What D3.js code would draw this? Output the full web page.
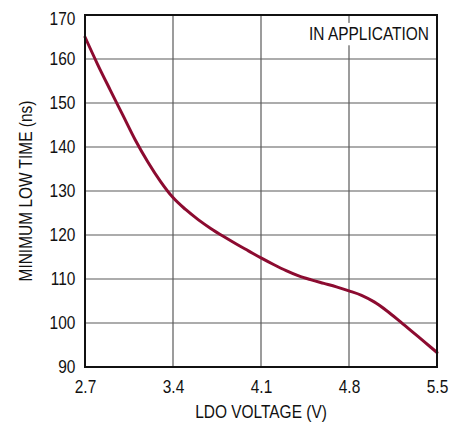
<!DOCTYPE html>
<html>
<head>
<meta charset="utf-8">
<script src="https://cdn.jsdelivr.net/npm/d3@7"></script>
<style>
  body { margin: 0; background: #fff; }
  text { font-family: "Liberation Sans Narrow", "Liberation Sans", Arial, sans-serif; fill: #111; }
</style>
</head>
<body>
<div id="chart"></div>
<script>
var margin = {top: 15, right: 26, bottom: 56, left: 85},
    width = 463 - margin.left - margin.right,
    height = 423 - margin.top - margin.bottom;
var narrow = 0.86; // squeeze text to look like a condensed face

// LDO voltage (V) vs minimum low time (ns)
var voltage = [2.7, 2.8, 2.9, 3.0, 3.1, 3.2, 3.3, 3.4, 3.5, 3.6, 3.7, 3.8, 3.9, 4.0, 4.1,
               4.2, 4.3, 4.4, 4.5, 4.6, 4.7, 4.8, 4.9, 5.0, 5.1, 5.2, 5.3, 5.4, 5.5];
var lowTime = [165, 158.8, 153, 147.3, 141.6, 136.6, 132.2, 128.5, 125.8, 123.5, 121.5, 119.7, 118, 116.4, 114.8,
               113.3, 111.9, 110.7, 109.8, 109, 108.2, 107.3, 106.3, 104.8, 102.8, 100.5, 98.1, 95.7, 93.3];
var xTicks = [2.7, 3.4, 4.1, 4.8, 5.5];
var yTicks = [90, 100, 110, 120, 130, 140, 150, 160, 170];

var svg = d3.select("#chart").append("svg")
    .attr("width", width + margin.left + margin.right)
    .attr("height", height + margin.top + margin.bottom);

var g = svg.append("g")
    .attr("transform", "translate(" + margin.left + "," + margin.top + ")");

var x = d3.scaleLinear().domain([2.7, 5.5]).range([0, width]);
var y = d3.scaleLinear().domain([90, 170]).range([height, 0]);

// grid
g.selectAll(".vgrid").data(xTicks.slice(1, -1)).enter().append("line")
    .attr("x1", function(d) { return x(d); })
    .attr("x2", function(d) { return x(d); })
    .attr("y1", 0).attr("y2", height)
    .attr("stroke", "#5a5a5a").attr("stroke-width", 1.2);

g.selectAll(".hgrid").data(yTicks.slice(1, -1)).enter().append("line")
    .attr("y1", function(d) { return y(d); })
    .attr("y2", function(d) { return y(d); })
    .attr("x1", 0).attr("x2", width)
    .attr("stroke", "#5a5a5a").attr("stroke-width", 1.2);

// label box with white background
var note = g.append("g").attr("transform", "translate(" + (width - 8) + ",25) scale(" + narrow + ",1)");
var noteText = note.append("text")
    .attr("text-anchor", "end")
    .style("font-size", "18px")
    .text("IN APPLICATION");
var bb = noteText.node().getBBox();
note.insert("rect", "text")
    .attr("x", bb.x - 2).attr("y", bb.y - 1)
    .attr("width", bb.width + 4).attr("height", bb.height + 2)
    .attr("fill", "#fff");

// curve
var line = d3.line()
    .x(function(d, i) { return x(voltage[i]); })
    .y(function(d) { return y(d); })
    .curve(d3.curveMonotoneX);

g.append("path")
    .datum(lowTime)
    .attr("d", line)
    .attr("fill", "none")
    .attr("stroke", "#8c0b30")
    .attr("stroke-width", 3)
    .attr("stroke-linecap", "round");

// frame
g.append("rect")
    .attr("width", width).attr("height", height)
    .attr("fill", "none")
    .attr("stroke", "#111").attr("stroke-width", 2);

// axes
var xAxis = g.append("g")
    .attr("transform", "translate(0," + height + ")")
    .call(d3.axisBottom(x).tickValues(xTicks).tickSize(0).tickPadding(13).tickFormat(d3.format(".1f")));
var yAxis = g.append("g")
    .call(d3.axisLeft(y).tickValues(yTicks).tickSize(0).tickPadding(10).tickFormat(d3.format("d")));
[xAxis, yAxis].forEach(function(a) {
    a.select(".domain").remove();
    a.selectAll("text").style("font-size", "18px").attr("fill", "#111");
});
xAxis.selectAll("text").attr("transform", "scale(" + narrow + ",1)");
yAxis.selectAll("text").attr("transform", "translate(-1,0) scale(" + narrow + ",1)");
yAxis.selectAll(".tick").filter(function(d) { return d === 170; })
    .select("text").attr("dy", "0.55em");

svg.append("text")
    .attr("transform", "translate(" + (margin.left + width / 2) + ",418) scale(" + narrow + ",1)")
    .attr("text-anchor", "middle")
    .style("font-size", "18px")
    .text("LDO VOLTAGE (V)");

svg.append("text")
    .attr("transform", "translate(32," + (margin.top + height / 2) + ") rotate(-90) scale(" + narrow + ",1)")
    .attr("text-anchor", "middle")
    .style("font-size", "18px")
    .text("MINIMUM LOW TIME (ns)");
</script>
</body>
</html>
